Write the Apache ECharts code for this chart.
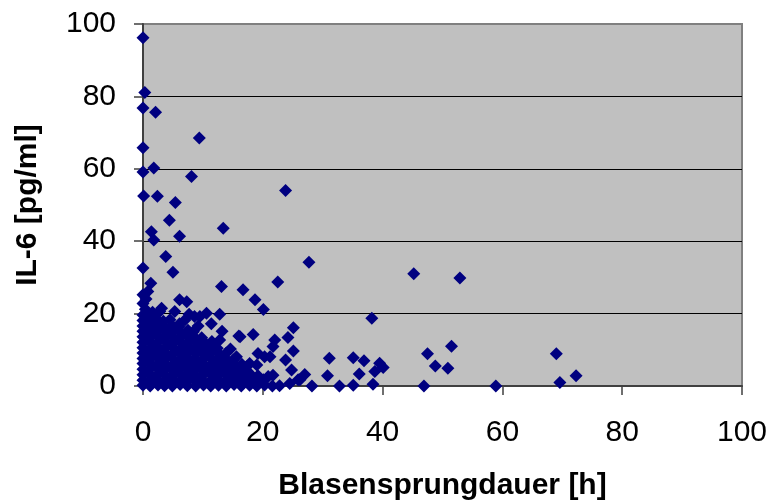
<!DOCTYPE html>
<html>
<head>
<meta charset="utf-8">
<script src="https://cdn.jsdelivr.net/npm/echarts@6/dist/echarts.min.js"></script>
<style>
  html, body { margin: 0; padding: 0; background: #ffffff; }
  #chart { width: 771px; height: 502px; }
</style>
</head>
<body>
<div id="chart"></div>
<script>
// Axis tick values
const xTicks = [0, 20, 40, 60, 80, 100];
const yTicks = [0, 20, 40, 60, 80, 100];

// Scattered measurements: [Blasensprungdauer h, IL-6 pg/ml]
const sparsePoints = [
  [0.0, 96.2], [0.3, 81.1], [0.0, 76.8], [2.1, 75.6], [9.4, 68.5], [0.0, 65.8],
  [0.0, 59.1], [1.8, 60.2], [8.1, 57.9], [23.8, 54.0], [0.1, 52.5], [2.4, 52.4],
  [5.4, 50.7], [4.4, 45.8], [13.4, 43.6], [1.4, 42.6], [1.8, 40.3], [6.1, 41.4],
  [3.8, 35.8], [27.7, 34.2], [0.0, 32.6], [5.0, 31.4], [45.2, 31.0], [52.9, 29.8],
  [1.3, 28.4], [13.1, 27.5], [16.7, 26.6], [22.5, 28.7], [0.0, 25.2], [0.8, 26.1],
  [18.7, 23.8], [20.1, 21.1], [6.1, 23.8], [7.3, 23.3], [38.2, 18.7], [25.1, 16.1],
  [16.2, 13.6], [18.4, 14.2], [24.2, 13.4], [22.0, 12.7], [21.7, 10.9], [23.8, 7.2],
  [25.1, 9.7], [31.1, 7.7], [30.8, 2.8], [35.1, 7.8], [36.9, 7.0], [36.1, 3.3],
  [39.5, 6.3], [40.1, 5.1], [38.7, 4.0], [38.4, 0.5], [28.2, 0.0], [32.8, 0.0],
  [35.1, 0.2], [27.0, 3.2], [46.9, 0.0], [47.5, 8.9], [51.5, 11.0], [48.8, 5.5],
  [50.9, 4.9], [58.9, 0.0], [69.0, 8.9], [69.6, 1.0], [72.3, 2.8], [24.8, 4.4],
  [25.9, 1.7], [24.5, 0.7], [26.2, 1.7], [20.9, 2.6], [20.3, 8.1], [19.2, 9.0],
  [21.2, 8.1]
];

// Measurements around the edge of the main cluster
const edgePoints = [
  [3.1, 21.5], [5.3, 20.6], [7.7, 19.8], [9.5, 19.2], [12.8, 19.8], [11.4, 17.2],
  [6.1, 17.2], [12.8, 12.7], [19.0, 5.8], [21.7, 3.0], [20.1, 1.7], [15.6, 8.1],
  [17.3, 5.3], [2.8, 20.6], [8.6, 19.2], [10.6, 20.1], [16.0, 13.8], [17.8, 6.2],
  [14.6, 10.2], [9.2, 16.6], [7.0, 18.2], [13.2, 15.1]
];

// Dense cluster of short durations / low IL-6
const clusterPoints = [
  [0.0, 0.2], [1.2, 0.0], [2.5, 0.3], [3.6, 0.1], [4.9, 0.0], [6.2, 0.4], [7.4, 0.1],
  [8.8, 0.0], [10.1, 0.3], [11.3, 0.0], [12.6, 0.2], [13.9, 0.0], [15.2, 0.4],
  [16.4, 0.0], [17.8, 0.2], [19.0, 0.0], [20.3, 0.3], [21.6, 0.0], [22.8, 0.1],
  [0.0, 1.6], [1.1, 1.4], [2.3, 1.9], [3.7, 1.3], [5.0, 1.7], [6.1, 1.2], [7.5, 1.8],
  [8.7, 1.4], [9.9, 1.6], [11.2, 1.3], [12.4, 1.9], [13.8, 1.5], [15.0, 1.2],
  [16.3, 1.8], [17.5, 1.4], [18.9, 1.6],
  [0.0, 3.1], [1.3, 2.9], [2.6, 3.4], [3.8, 2.8], [5.1, 3.2], [6.4, 3.0], [7.6, 3.5],
  [8.9, 2.7], [10.2, 3.3], [11.5, 3.0], [12.7, 3.4], [14.0, 2.9], [15.3, 3.2],
  [16.6, 3.0], [17.9, 3.3], [19.2, 2.8],
  [0.0, 4.6], [1.0, 4.4], [2.4, 4.9], [3.5, 4.3], [4.8, 4.7], [6.0, 4.5], [7.3, 4.8],
  [8.5, 4.2], [9.8, 4.6], [11.0, 4.4], [12.3, 4.9], [13.6, 4.3], [14.8, 4.7],
  [16.1, 4.5], [17.4, 4.1],
  [0.0, 6.2], [1.4, 5.9], [2.7, 6.4], [3.9, 5.8], [5.2, 6.1], [6.5, 6.3], [7.8, 5.9],
  [9.0, 6.4], [10.3, 5.8], [11.6, 6.2], [12.9, 6.0], [14.2, 6.3], [15.4, 5.7], [16.5, 6.0],
  [0.0, 7.6], [1.1, 7.3], [2.5, 7.8], [3.6, 7.4], [4.9, 7.7], [6.2, 7.2], [7.4, 7.9],
  [8.7, 7.5], [10.0, 7.3], [11.3, 7.8], [12.5, 7.4], [13.8, 7.6], [15.1, 7.2],
  [0.0, 9.1], [1.3, 8.8], [2.6, 9.4], [3.8, 8.9], [5.1, 9.2], [6.4, 8.7], [7.6, 9.3],
  [8.9, 9.0], [10.2, 8.8], [11.4, 9.4], [12.7, 8.9], [13.9, 9.1],
  [0.0, 10.6], [1.2, 10.3], [2.4, 10.8], [3.7, 10.4], [5.0, 10.7], [6.3, 10.2],
  [7.5, 10.9], [8.8, 10.5], [10.0, 10.3], [11.3, 10.8], [12.4, 10.4],
  [0.0, 12.1], [1.4, 11.8], [2.7, 12.4], [4.0, 11.9], [5.3, 12.2], [6.6, 11.7],
  [7.8, 12.3], [9.1, 12.0], [10.4, 11.8], [11.5, 12.3],
  [0.0, 13.6], [1.1, 13.3], [2.4, 13.8], [3.6, 13.4], [4.9, 13.7], [6.1, 13.2],
  [7.4, 13.9], [8.6, 13.5], [9.8, 13.3],
  [0.0, 15.1], [1.3, 14.8], [2.5, 15.3], [3.8, 14.9], [5.0, 15.2], [6.3, 14.7],
  [7.5, 15.4], [8.4, 15.0],
  [0.0, 16.6], [1.2, 16.3], [2.4, 16.8], [3.6, 16.2], [4.8, 16.7], [6.0, 16.4],
  [0.0, 18.1], [1.1, 17.8], [2.3, 18.4], [3.4, 17.9], [4.5, 18.3],
  [0.0, 19.6], [1.0, 19.3], [0.4, 21.2], [1.6, 20.4], [0.0, 22.8], [0.5, 24.0]
];

const chart = echarts.init(document.getElementById('chart'), null, { renderer: 'canvas' });

const axisFont = { fontFamily: 'Liberation Sans, Arial, sans-serif', fontSize: 30, color: '#000000' };
const titleFont = { fontFamily: 'Liberation Sans, Arial, sans-serif', fontSize: 30, fontWeight: 'bold', color: '#000000' };

const allPoints = sparsePoints.concat(edgePoints, clusterPoints);

chart.setOption({
  animation: false,
  backgroundColor: '#ffffff',
  grid: {
    left: 143, right: 29, top: 24, bottom: 116,
    outerBoundsMode: 'none',
    containLabel: false,
    show: true,
    backgroundColor: '#C0C0C0',
    borderColor: '#808080',
    borderWidth: 2
  },
  xAxis: {
    type: 'value',
    min: xTicks[0], max: xTicks[xTicks.length - 1], interval: 20,
    name: 'Blasensprungdauer [h]',
    nameLocation: 'middle',
    nameGap: 85,
    nameTextStyle: titleFont,
    axisLine: { show: true, onZero: false, lineStyle: { color: '#404040', width: 2 } },
    axisTick: { show: true, inside: false, length: 9, lineStyle: { color: '#404040', width: 1.5 } },
    axisLabel: Object.assign({ margin: 32, hideOverlap: false }, axisFont),
    splitLine: { show: false }
  },
  yAxis: {
    type: 'value',
    min: yTicks[0], max: yTicks[yTicks.length - 1], interval: 20,
    name: 'IL-6 [pg/ml]',
    nameLocation: 'middle',
    nameGap: 100,
    nameTextStyle: titleFont,
    axisLine: { show: true, onZero: false, lineStyle: { color: '#404040', width: 2 } },
    axisTick: { show: true, inside: false, length: 9, lineStyle: { color: '#404040', width: 1.5 } },
    axisLabel: Object.assign({ margin: 27 }, axisFont),
    splitLine: { show: true, showMinLine: false, showMaxLine: false, lineStyle: { color: '#000000', width: 1.2 } }
  },
  series: [{
    type: 'scatter',
    data: allPoints,
    symbol: 'diamond',
    symbolSize: 13,
    itemStyle: { color: '#000080', opacity: 1 },
    emphasis: { disabled: true }
  }]
});
</script>
</body>
</html>
